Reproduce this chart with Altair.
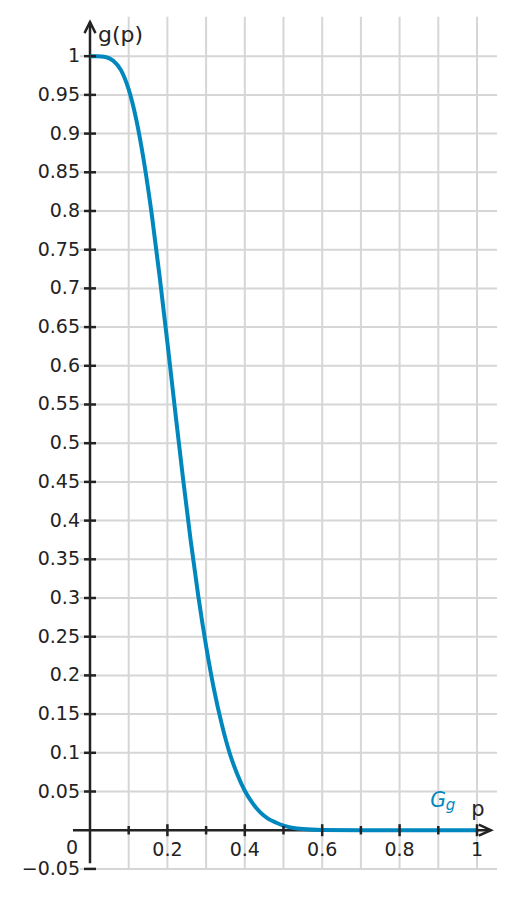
import altair as alt
import pandas as pd

# ---- data ----
p_vals = [0.00, 0.02, 0.04, 0.06, 0.08, 0.10, 0.12, 0.14, 0.16, 0.18, 0.20,
          0.22, 0.24, 0.26, 0.28, 0.30, 0.32, 0.34, 0.36, 0.38, 0.40,
          0.42, 0.44, 0.46, 0.48, 0.50, 0.55, 0.60, 0.70, 0.80, 0.90, 1.00]
g_vals = [1.000, 1.000, 0.999, 0.994, 0.982, 0.957, 0.917, 0.862, 0.794, 0.715, 0.630,
          0.542, 0.456, 0.375, 0.302, 0.238, 0.183, 0.138, 0.101, 0.073, 0.051,
          0.035, 0.023, 0.015, 0.010, 0.006, 0.0015, 0.0003, 0.0, 0.0, 0.0, 0.0]

grid_x = [0.1, 0.2, 0.3, 0.4, 0.5, 0.6, 0.7, 0.8, 0.9, 1.0]
grid_y = [-0.05, 0.05, 0.1, 0.15, 0.2, 0.25, 0.3, 0.35, 0.4, 0.45, 0.5,
          0.55, 0.6, 0.65, 0.7, 0.75, 0.8, 0.85, 0.9, 0.95, 1.0]
x_labels = [0.2, 0.4, 0.6, 0.8, 1.0]
x_minor = [0.1, 0.3, 0.5, 0.7, 0.9]
y_labels = [-0.05, 0.05, 0.1, 0.15, 0.2, 0.25, 0.3, 0.35, 0.4, 0.45, 0.5,
            0.55, 0.6, 0.65, 0.7, 0.75, 0.8, 0.85, 0.9, 0.95, 1.0]

X_DOM = [-0.0465, 1.0517]
Y_DOM = [-0.051, 1.051]
X_AXIS_END = [-0.044, 1.036]
Y_AXIS_END = [-0.0426, 1.044]
GRID_LEFT = -0.026

AX = "#232323"
GRID = "#d6d6d6"
BLUE = "#0088be"
FONT = "DejaVu Sans"
LABEL_SIZE = 19

xs = alt.Scale(domain=X_DOM, nice=False, zero=False)
ys = alt.Scale(domain=Y_DOM, nice=False, zero=False)


def X(field):
    return alt.X(field, scale=xs, axis=None)


def Y(field):
    return alt.Y(field, scale=ys, axis=None)


curve_df = pd.DataFrame({"p": p_vals, "g": g_vals})

# vertical grid
gv = alt.Chart(pd.DataFrame({"x": grid_x, "y": [-0.05] * len(grid_x),
                             "y2": [Y_DOM[1]] * len(grid_x)})).mark_rule(
    color=GRID, strokeWidth=2).encode(x=X("x:Q"), y=Y("y:Q"), y2="y2:Q")

# horizontal grid
gh = alt.Chart(pd.DataFrame({"y": grid_y, "x": [GRID_LEFT] * len(grid_y),
                             "x2": [X_DOM[1]] * len(grid_y)})).mark_rule(
    color=GRID, strokeWidth=2).encode(y=Y("y:Q"), x=X("x:Q"), x2="x2:Q")

# axis lines
xline = alt.Chart(pd.DataFrame({"x": [X_AXIS_END[0]], "x2": [X_AXIS_END[1]], "y": [0.0]})).mark_rule(
    color=AX, strokeWidth=2.5).encode(x=X("x:Q"), x2="x2:Q", y=Y("y:Q"))
yline = alt.Chart(pd.DataFrame({"y": [Y_AXIS_END[0]], "y2": [Y_AXIS_END[1]], "x": [0.0]})).mark_rule(
    color=AX, strokeWidth=2.5).encode(y=Y("y:Q"), y2="y2:Q", x=X("x:Q"))

curve = alt.Chart(curve_df).mark_line(color=BLUE, strokeWidth=4, interpolate="monotone").encode(
    x=X("p:Q"), y=Y("g:Q"))

# ticks
ytick_df = pd.DataFrame({"x": [0.0] * len(y_labels), "y": y_labels})
xmaj_df = pd.DataFrame({"x": x_labels, "y": [0.0] * len(x_labels)})
xmin_df = pd.DataFrame({"x": x_minor, "y": [0.0] * len(x_minor)})

ytick = alt.Chart(ytick_df).mark_point(
    shape="M-1,0L1,0", size=144, strokeWidth=2.5, color=AX, filled=False, opacity=1).encode(
    x=X("x:Q"), y=Y("y:Q"))
xtick_major = alt.Chart(xmaj_df).mark_point(
    shape="M0,-1L0,1", size=144, strokeWidth=2.5, color=AX, filled=False, opacity=1).encode(
    x=X("x:Q"), y=Y("y:Q"))
xtick_minor = alt.Chart(xmin_df).mark_point(
    shape="M0,-1L0,1", size=72, strokeWidth=2.5, color=AX, filled=False, opacity=1).encode(
    x=X("x:Q"), y=Y("y:Q"))

# tick labels (formatted by Vega from the numeric values)
ylabels = alt.Chart(ytick_df).mark_text(
    align="right", baseline="middle", dx=-10, fontSize=LABEL_SIZE, font=FONT, color=AX).encode(
    x=X("x:Q"), y=Y("y:Q"), text=alt.Text("y:Q", format="~g"))
xlabels = alt.Chart(xmaj_df).mark_text(
    align="center", baseline="top", dy=11, fontSize=LABEL_SIZE, font=FONT, color=AX).encode(
    x=X("x:Q"), y=Y("y:Q"), text=alt.Text("x:Q", format="~g"))

# arrow heads
yarrow = alt.Chart(pd.DataFrame({"x": [0.0], "y": [Y_AXIS_END[1]]})).mark_point(
    shape="M-1,2L0,0L1,2", size=121, strokeWidth=2.5, color=AX, filled=False, opacity=1,
    strokeJoin="miter").encode(x=X("x:Q"), y=Y("y:Q"))
xarrow = alt.Chart(pd.DataFrame({"x": [X_AXIS_END[1]], "y": [0.0]})).mark_point(
    shape="M-2.2,-1L0,0L-2.2,1", size=121, strokeWidth=2.5, color=AX, filled=False, opacity=1,
    strokeJoin="miter").encode(x=X("x:Q"), y=Y("y:Q"))


def txt(x, y, s, **kw):
    return alt.Chart(pd.DataFrame({"x": [x], "y": [y], "t": [s]})).mark_text(**kw).encode(
        x=X("x:Q"), y=Y("y:Q"), text="t:N")


origin = txt(0.0, 0.0, "0", align="right", baseline="middle", dx=-12, dy=18,
             fontSize=LABEL_SIZE, font=FONT, color=AX)
ylab = txt(0.0, Y_AXIS_END[1], "g(p)", align="left", baseline="middle", dx=8, dy=13,
           fontSize=22, font=FONT, color=AX)
xlab = txt(X_AXIS_END[1], 0.0, "p", align="center", baseline="alphabetic", dx=-13, dy=-14,
           fontSize=21, font=FONT, color=AX)
gG = txt(0.9, 0.0, "G", align="left", baseline="alphabetic", dx=-8, dy=-23,
         fontSize=20.5, font=FONT, fontStyle="italic", color=BLUE)
gsub = txt(0.9, 0.0, "g", align="left", baseline="alphabetic", dx=7.5, dy=-20,
           fontSize=15, font=FONT, fontStyle="italic", color=BLUE)

chart = alt.layer(gv, gh, xline, yline, curve, ytick, xtick_major, xtick_minor,
                  yarrow, xarrow, ylabels, xlabels, origin, ylab, xlab, gG, gsub).properties(
    width=425, height=853,
    padding={"left": 64, "top": 8.7, "right": 9, "bottom": 19},
    autosize=alt.AutoSizeParams(type="none"),
    background="white",
).configure_view(stroke=None)

chart.save("out.html", embed_options={"renderer": "svg", "actions": False})
